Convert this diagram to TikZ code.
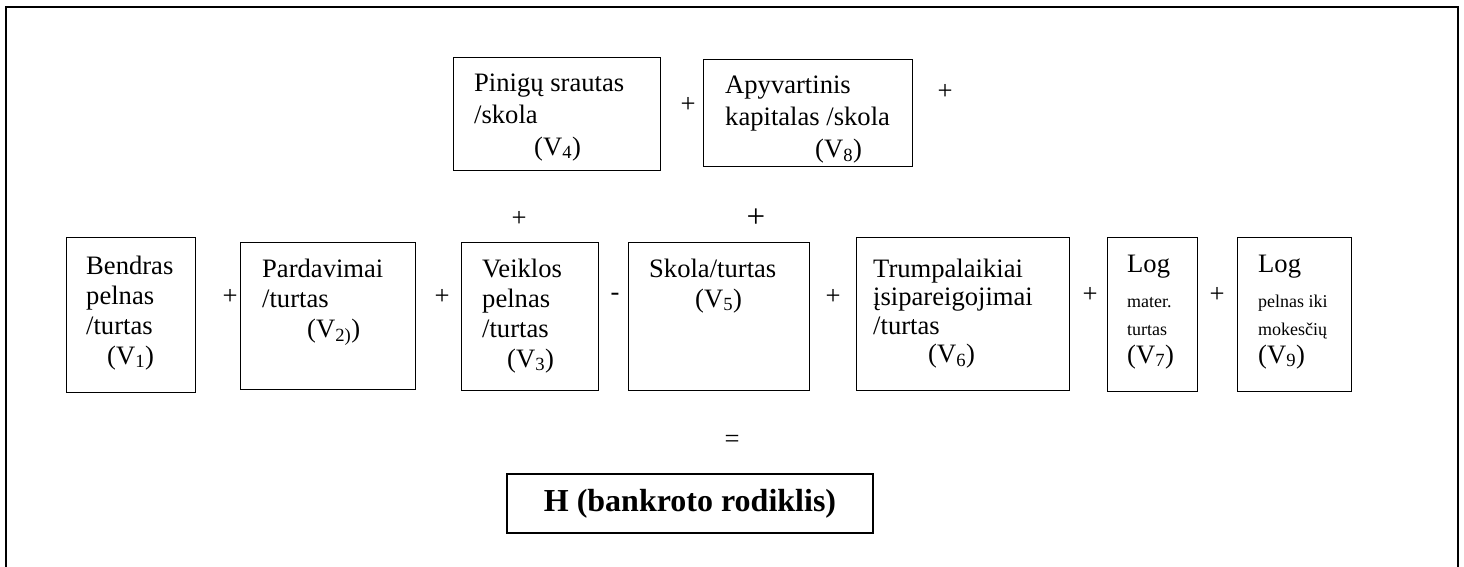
\documentclass[tikz,border=0pt]{standalone}
\usepackage{fontspec}
\setmainfont{Liberation Serif}
\begin{document}
\begin{tikzpicture}[x=1pt,y=-1pt,
  box/.style={draw, line width=1.2pt, inner sep=0pt, anchor=north west},
  txt/.style={inner sep=0pt, anchor=north west, align=left, font=\fontsize{26.6}{30}\selectfont},
  toptxt/.style={txt, font=\fontsize{26.6}{32}\selectfont},
  smalltxt/.style={txt, font=\fontsize{26.6}{28}\selectfont},
  op/.style={inner sep=0pt, font=\fontsize{26.6}{30}\selectfont},
  frame/.style={draw, line width=2pt}]
\useasboundingbox (0,0) rectangle (1464,567);
\clip (0,0) rectangle (1464,567);
\draw[frame] (6,620) -- (6,7.5) -- (1458,7.5) -- (1458,620);
\newcommand{\sm}{\fontsize{18}{20}\selectfont}

% top row
\node[box, minimum width=207pt, minimum height=113pt] (b4) at (453,57) {};
\node[toptxt] (t4) at (474,68.6) {\strut Pinigų srautas\\/skola\\\hspace*{60pt}(V\textsubscript{4})};
\node[box, minimum width=209pt, minimum height=107pt] (b8) at (703,59) {};
\node[toptxt] (t8) at (725,70.6) {\strut Apyvartinis\\kapitalas /skola\\\hspace*{90pt}(V\textsubscript{8})};
\node[op] (p48) at (688,105) {+};
\node[op] (p8) at (945,92) {+};

% middle row
\node[box, minimum width=129pt, minimum height=155pt] (b1) at (66,237) {};
\node[txt] (t1) at (86,253) {\strut Bendras\\pelnas\\/turtas\\\hspace*{21pt}(V\textsubscript{1})};
\node[op] (p12) at (230,297) {+};
\node[box, minimum width=175pt, minimum height=147pt] (b2) at (240,242) {};
\node[txt] (t2) at (262,256) {\strut Pardavimai\\/turtas\\\hspace*{45pt}(V\textsubscript{2)})};
\node[op] (p23) at (442,297) {+};
\node[op] (p3top) at (519,219) {+};
\node[box, minimum width=137pt, minimum height=148pt] (b3) at (461,242) {};
\node[txt] (t3) at (482,256) {\strut Veiklos\\pelnas\\/turtas\\\hspace*{25pt}(V\textsubscript{3})};
\node[op] (m35) at (615,297) {-};
\node[op, font=\fontsize{33}{36}\selectfont] (p5top) at (756,218) {+};
\node[box, minimum width=181pt, minimum height=148pt] (b5) at (628,242) {};
\node[txt] (t5) at (649,256) {\strut Skola/turtas\\\hspace*{46pt}(V\textsubscript{5})};
\node[op] (p56) at (833,297) {+};
\node[box, minimum width=213pt, minimum height=153pt] (b6) at (856,237) {};
\node[txt, font=\fontsize{26.6}{28.5}\selectfont] (t6) at (873,257) {\strut Trumpalaikiai\\įsipareigojimai\\/turtas\\\hspace*{55pt}(V\textsubscript{6})};
\node[op] (p67) at (1090,295) {+};
\node[box, minimum width=90pt, minimum height=154pt] (b7) at (1107,237) {};
\node[smalltxt] (t7) at (1127,252.4) {\strut Log\\[7pt]{\sm mater.}\\{\sm turtas}\\(V\textsubscript{7})};
\node[op] (p79) at (1217,295) {+};
\node[box, minimum width=114pt, minimum height=154pt] (b9) at (1237,237) {};
\node[smalltxt] (t9) at (1258,252.4) {\strut Log\\[7pt]{\sm pelnas iki}\\{\sm mokesčių}\\(V\textsubscript{9})};

% result
\node[op] (eq) at (732,441) {=};
\node[draw, line width=1.2pt, minimum width=366pt, minimum height=59pt, inner sep=0pt,
      font=\bfseries\fontsize{32}{38}\selectfont] (h) at (690,503.5) {H (bankroto rodiklis)};
\end{tikzpicture}
\end{document}
